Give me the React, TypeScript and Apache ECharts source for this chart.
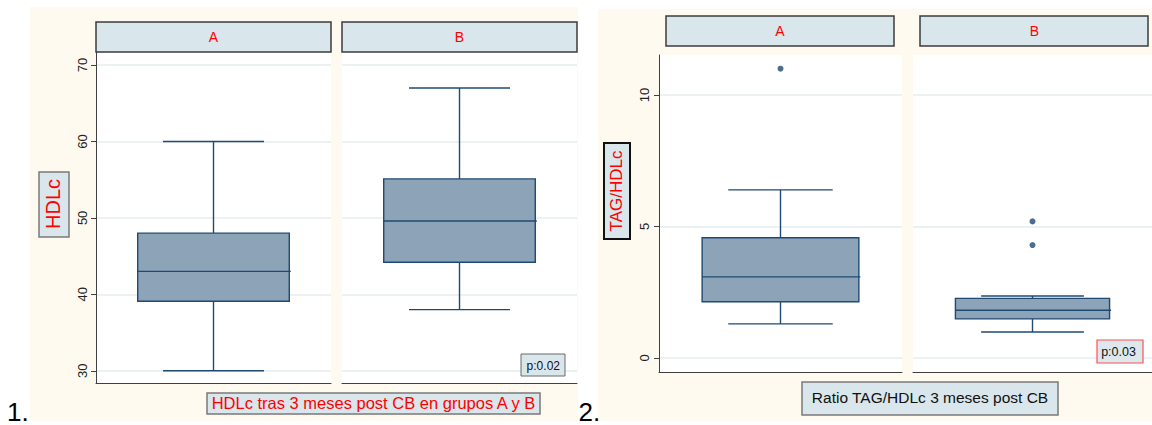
import React, { useEffect, useRef } from "react";
import * as echarts from "echarts";

// ---- data ----
// box stats: [min whisker, Q1, median, Q3, max whisker]
const groups = ["A", "B"];
const hdlcA = [30, 39.1, 43, 48, 60];
const hdlcB = [38, 44.2, 49.6, 55.1, 67];
const ratioA = [1.29, 2.13, 3.08, 4.57, 6.39];
const ratioB = [0.98, 1.48, 1.81, 2.26, 2.35];
const ratioOutA = [11.0];
const ratioOutB = [5.19, 4.29];
const hdlcTicks = [30, 40, 50, 60, 70];
const ratioTicks = [0, 5, 10];
const hdlcRange = [28.4, 71.7];
const ratioRange = [-0.54, 11.52];
const title1 = "HDLc tras 3 meses post CB en grupos A y B";
const title2 = "Ratio TAG/HDLc 3 meses post CB";
const yName1 = "HDLc";
const yName2 = "TAG/HDLc";
const pText1 = "p:0.02";
const pText2 = "p:0.03";

const FONT = "'Liberation Sans', Arial, sans-serif";
const NAVY = "#1f4a72";
const BOXFILL = "#8da3b8";
const GRIDC = "#e6eef1";
const AXC = "#404040";
const HDRFILL = "#d9e6ec";
const CREAM = "#fffaf0";

function renderBox(params: any, api: any) {
  const x = api.value(0);
  const pMin = api.coord([x, api.value(1)]);
  const pQ1 = api.coord([x, api.value(2)]);
  const pMed = api.coord([x, api.value(3)]);
  const pQ3 = api.coord([x, api.value(4)]);
  const pMax = api.coord([x, api.value(5)]);
  const band = api.size([1, 0])[0];
  const bw = band * 0.645;
  const cw = band * 0.43;
  const cx = pMin[0];
  const ls = { stroke: NAVY, lineWidth: 1.4 };
  return {
    type: "group",
    children: [
      { type: "line", shape: { x1: cx, y1: pQ3[1], x2: cx, y2: pMax[1] }, style: ls },
      { type: "line", shape: { x1: cx, y1: pQ1[1], x2: cx, y2: pMin[1] }, style: ls },
      { type: "line", shape: { x1: cx - cw / 2, y1: pMax[1], x2: cx + cw / 2, y2: pMax[1] }, style: ls },
      { type: "line", shape: { x1: cx - cw / 2, y1: pMin[1], x2: cx + cw / 2, y2: pMin[1] }, style: ls },
      {
        type: "rect",
        shape: { x: cx - bw / 2, y: pQ3[1], width: bw, height: pQ1[1] - pQ3[1] },
        style: { fill: BOXFILL, stroke: NAVY, lineWidth: 1.4 },
      },
      { type: "line", shape: { x1: cx - bw / 2, y1: pMed[1], x2: cx + bw / 2 + 1.5, y2: pMed[1] }, style: ls },
    ],
  };
}

function xAx(gridIndex: number, cat: string) {
  return {
    type: "category",
    gridIndex,
    data: [cat],
    boundaryGap: true,
    axisLine: { show: true, onZero: false, lineStyle: { color: AXC, width: 1 } },
    axisTick: { show: false },
    axisLabel: { show: false },
    splitLine: { show: false },
  };
}

function yAx(gridIndex: number, range: number[], ticks: number[], show: boolean, margin: number) {
  return {
    type: "value",
    gridIndex,
    min: range[0],
    max: range[1],
    axisLine: { show, lineStyle: { color: AXC, width: 1 } },
    axisTick: { show, length: 5, customValues: ticks, lineStyle: { color: AXC, width: 1 } },
    axisLabel: {
      show,
      customValues: ticks,
      rotate: 90,
      margin,
      fontSize: 13,
      color: "#222",
      fontFamily: FONT,
    },
    splitLine: { show: true, lineStyle: { color: GRIDC, width: 1.5 } },
  };
}

function boxSeries(i: number, stats: number[]) {
  return {
    type: "custom",
    xAxisIndex: i,
    yAxisIndex: i,
    renderItem: renderBox,
    encode: { x: 0, y: [1, 2, 3, 4, 5] },
    data: [[0, ...stats]],
    z: 5,
  };
}

function outSeries(i: number, vals: number[]) {
  return {
    type: "scatter",
    xAxisIndex: i,
    yAxisIndex: i,
    symbol: "circle",
    symbolSize: 6,
    itemStyle: { color: NAVY },
    data: vals.map((v) => [0, v]),
    z: 6,
  };
}

function rectEl(x: number, y: number, w: number, h: number, fill: string, stroke: string | null, lw: number, z = 10) {
  return {
    type: "rect",
    z,
    shape: { x, y, width: w, height: h },
    style: { fill, stroke: stroke || "none", lineWidth: lw },
    silent: true,
  };
}

function textEl(x: number, y: number, text: string, size: number, color: string, rotation = 0, align = "center") {
  return {
    type: "text",
    z: 11,
    x,
    y,
    rotation,
    style: { text, fontSize: size, fill: color, fontFamily: FONT, align, verticalAlign: "middle" },
    silent: true,
  };
}

export default function App() {
  const ref = useRef<HTMLDivElement>(null);
  useEffect(() => {
    if (!ref.current) return;
    const chart = echarts.init(ref.current, null, { renderer: "svg" });
    const option: any = {
      animation: false,
      backgroundColor: "#ffffff",
      grid: [
        { left: 96, top: 52, width: 235, height: 331, show: true, backgroundColor: "#ffffff", borderWidth: 0 },
        { left: 342, top: 52, width: 235, height: 331, show: true, backgroundColor: "#ffffff", borderWidth: 0 },
        { left: 659, top: 55, width: 243, height: 317, show: true, backgroundColor: "#ffffff", borderWidth: 0 },
        { left: 913, top: 55, width: 239, height: 317, show: true, backgroundColor: "#ffffff", borderWidth: 0 },
      ],
      xAxis: [xAx(0, groups[0]), xAx(1, groups[1]), xAx(2, groups[0]), xAx(3, groups[1])],
      yAxis: [
        yAx(0, hdlcRange, hdlcTicks, true, 7),
        yAx(1, hdlcRange, hdlcTicks, false, 7),
        yAx(2, ratioRange, ratioTicks, true, 8),
        yAx(3, ratioRange, ratioTicks, false, 8),
      ],
      series: [
        boxSeries(0, hdlcA),
        boxSeries(1, hdlcB),
        boxSeries(2, ratioA),
        boxSeries(3, ratioB),
        outSeries(2, ratioOutA),
        outSeries(3, ratioOutB),
      ],
      graphic: [
        // cream backgrounds
        rectEl(30, 7, 548, 414, CREAM, null, 0, -10),
        rectEl(598, 9, 554, 412, CREAM, null, 0, -10),
        // panel 1 headers
        rectEl(96, 22, 235, 30, HDRFILL, "#3c3c3c", 1.5),
        rectEl(342, 22, 235, 30, HDRFILL, "#3c3c3c", 1.5),
        textEl(213.5, 36.5, groups[0], 14, "#ff0000"),
        textEl(459.5, 36.5, groups[1], 14, "#ff0000"),
        // panel 2 headers
        rectEl(666, 16, 228, 30, HDRFILL, "#3c3c3c", 1.5),
        rectEl(920, 16, 228, 30, HDRFILL, "#3c3c3c", 1.5),
        textEl(780, 31, groups[0], 14, "#ff0000"),
        textEl(1034.5, 31, groups[1], 14, "#ff0000"),
        // y-axis name boxes
        rectEl(39, 172, 30, 65, HDRFILL, "#7a7a7a", 1.5),
        textEl(52.5, 204, yName1, 20, "#ff0000", Math.PI / 2),
        rectEl(604, 143, 26, 96, HDRFILL, "#111111", 2),
        textEl(616.5, 191, yName2, 17, "#ff0000", Math.PI / 2),
        // bottom titles
        rectEl(207, 393, 333, 21, HDRFILL, "#7a7a7a", 1.5),
        textEl(373.5, 403, title1, 16.5, "#ff0000"),
        rectEl(802, 382, 256, 33, HDRFILL, "#7a7a7a", 1.5),
        textEl(930, 397.5, title2, 15.5, "#111111"),
        // p-value boxes
        rectEl(521, 354, 44, 22, HDRFILL, "#6a6a6a", 1),
        textEl(543.3, 365.5, pText1, 12, "#111111"),
        rectEl(1097, 340, 46, 23, "#dde8ee", "#ff5050", 1.2),
        textEl(1118.5, 352, pText2, 12.5, "#111111"),
        // panel numbers
        textEl(7, 411.5, "1.", 26, "#000000", 0, "left"),
        textEl(578.5, 411.5, "2.", 26, "#000000", 0, "left"),
      ],
    };
    chart.setOption(option);
    return () => chart.dispose();
  }, []);
  return (
    <div
      ref={ref}
      style={{ position: "absolute", left: 0, top: 0, width: 1152, height: 425 }}
    />
  );
}
